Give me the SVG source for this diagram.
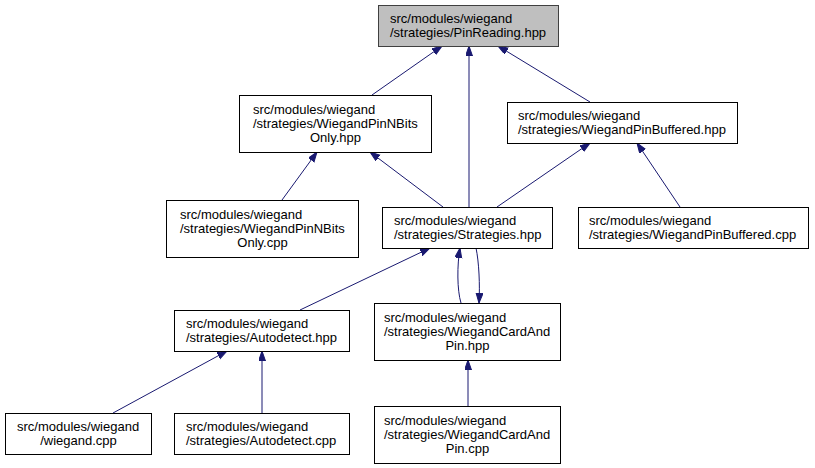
<svg xmlns="http://www.w3.org/2000/svg" width="815" height="468" viewBox="0 0 815 468">
<style>
.n rect{fill:#ffffff;stroke:#000000;stroke-width:1}
.n.root rect{fill:#bfbfbf;stroke:#404040}
.n text{font-family:"Liberation Sans",Arial,Helvetica,sans-serif;font-size:13px;fill:#000000}
.m{text-anchor:middle}
#edges path{fill:none;stroke:#191970;stroke-width:1;marker-end:url(#ah)}
</style>
<defs>
<marker id="ah" markerUnits="userSpaceOnUse" markerWidth="11" markerHeight="8" refX="10" refY="3.5" orient="auto">
<path d="M0,0 L10,3.5 L0,7 z" fill="#191970" stroke="#191970" stroke-width="1"/>
</marker>
</defs>
<rect width="815" height="468" fill="#ffffff"/>
<g id="edges">
<path d="M372,95 L442,46"/>
<path d="M469,207 L469,46"/>
<path d="M590,102 L498,46"/>
<path d="M282,200 L317,152"/>
<path d="M443,207 L370,152"/>
<path d="M497,207 L590,143"/>
<path d="M680,207 L637,143"/>
<path d="M300,310 L430,248"/>
<path d="M461,303 C457,290 457,265 460,248"/>
<path d="M476,248 C479,262 480,285 479,303"/>
<path d="M113,413 L227,351"/>
<path d="M262,413 L262,351"/>
<path d="M468,406 L468,360"/>
</g>
<g id="node-pinreading" class="n root">
<rect x="378.5" y="5.5" width="180" height="41"/>
<text x="390" y="23">src/modules/wiegand</text>
<text x="390" y="37">/strategies/PinReading.hpp</text>
</g>
<g id="node-nbitsonly-hpp" class="n">
<rect x="239.5" y="95.5" width="192" height="57"/>
<text x="253" y="114">src/modules/wiegand</text>
<text x="253" y="128">/strategies/WiegandPinNBits</text>
<text x="335.5" y="142" class="m">Only.hpp</text>
</g>
<g id="node-buffered-hpp" class="n">
<rect x="507.5" y="102.5" width="230" height="41"/>
<text x="518" y="120">src/modules/wiegand</text>
<text x="518" y="134">/strategies/WiegandPinBuffered.hpp</text>
</g>
<g id="node-nbitsonly-cpp" class="n">
<rect x="166.5" y="200.5" width="192" height="57"/>
<text x="180" y="219">src/modules/wiegand</text>
<text x="180" y="233">/strategies/WiegandPinNBits</text>
<text x="262.5" y="247" class="m">Only.cpp</text>
</g>
<g id="node-strategies-hpp" class="n">
<rect x="382.5" y="207.5" width="170" height="41"/>
<text x="394" y="225">src/modules/wiegand</text>
<text x="394" y="239">/strategies/Strategies.hpp</text>
</g>
<g id="node-buffered-cpp" class="n">
<rect x="578.5" y="207.5" width="230" height="41"/>
<text x="589" y="225">src/modules/wiegand</text>
<text x="589" y="239">/strategies/WiegandPinBuffered.cpp</text>
</g>
<g id="node-autodetect-hpp" class="n">
<rect x="174.5" y="310.5" width="175" height="41"/>
<text x="186" y="328">src/modules/wiegand</text>
<text x="186" y="342">/strategies/Autodetect.hpp</text>
</g>
<g id="node-cardandpin-hpp" class="n">
<rect x="374.5" y="303.5" width="186" height="57"/>
<text x="384" y="322">src/modules/wiegand</text>
<text x="384" y="336">/strategies/WiegandCardAnd</text>
<text x="467.5" y="350" class="m">Pin.hpp</text>
</g>
<g id="node-wiegand-cpp" class="n">
<rect x="5.5" y="413.5" width="146" height="41"/>
<text x="17" y="431">src/modules/wiegand</text>
<text x="78.5" y="445" class="m">/wiegand.cpp</text>
</g>
<g id="node-autodetect-cpp" class="n">
<rect x="174.5" y="413.5" width="175" height="41"/>
<text x="186" y="431">src/modules/wiegand</text>
<text x="186" y="445">/strategies/Autodetect.cpp</text>
</g>
<g id="node-cardandpin-cpp" class="n">
<rect x="374.5" y="406.5" width="186" height="57"/>
<text x="384" y="425">src/modules/wiegand</text>
<text x="384" y="439">/strategies/WiegandCardAnd</text>
<text x="467.5" y="453" class="m">Pin.cpp</text>
</g>
</svg>
